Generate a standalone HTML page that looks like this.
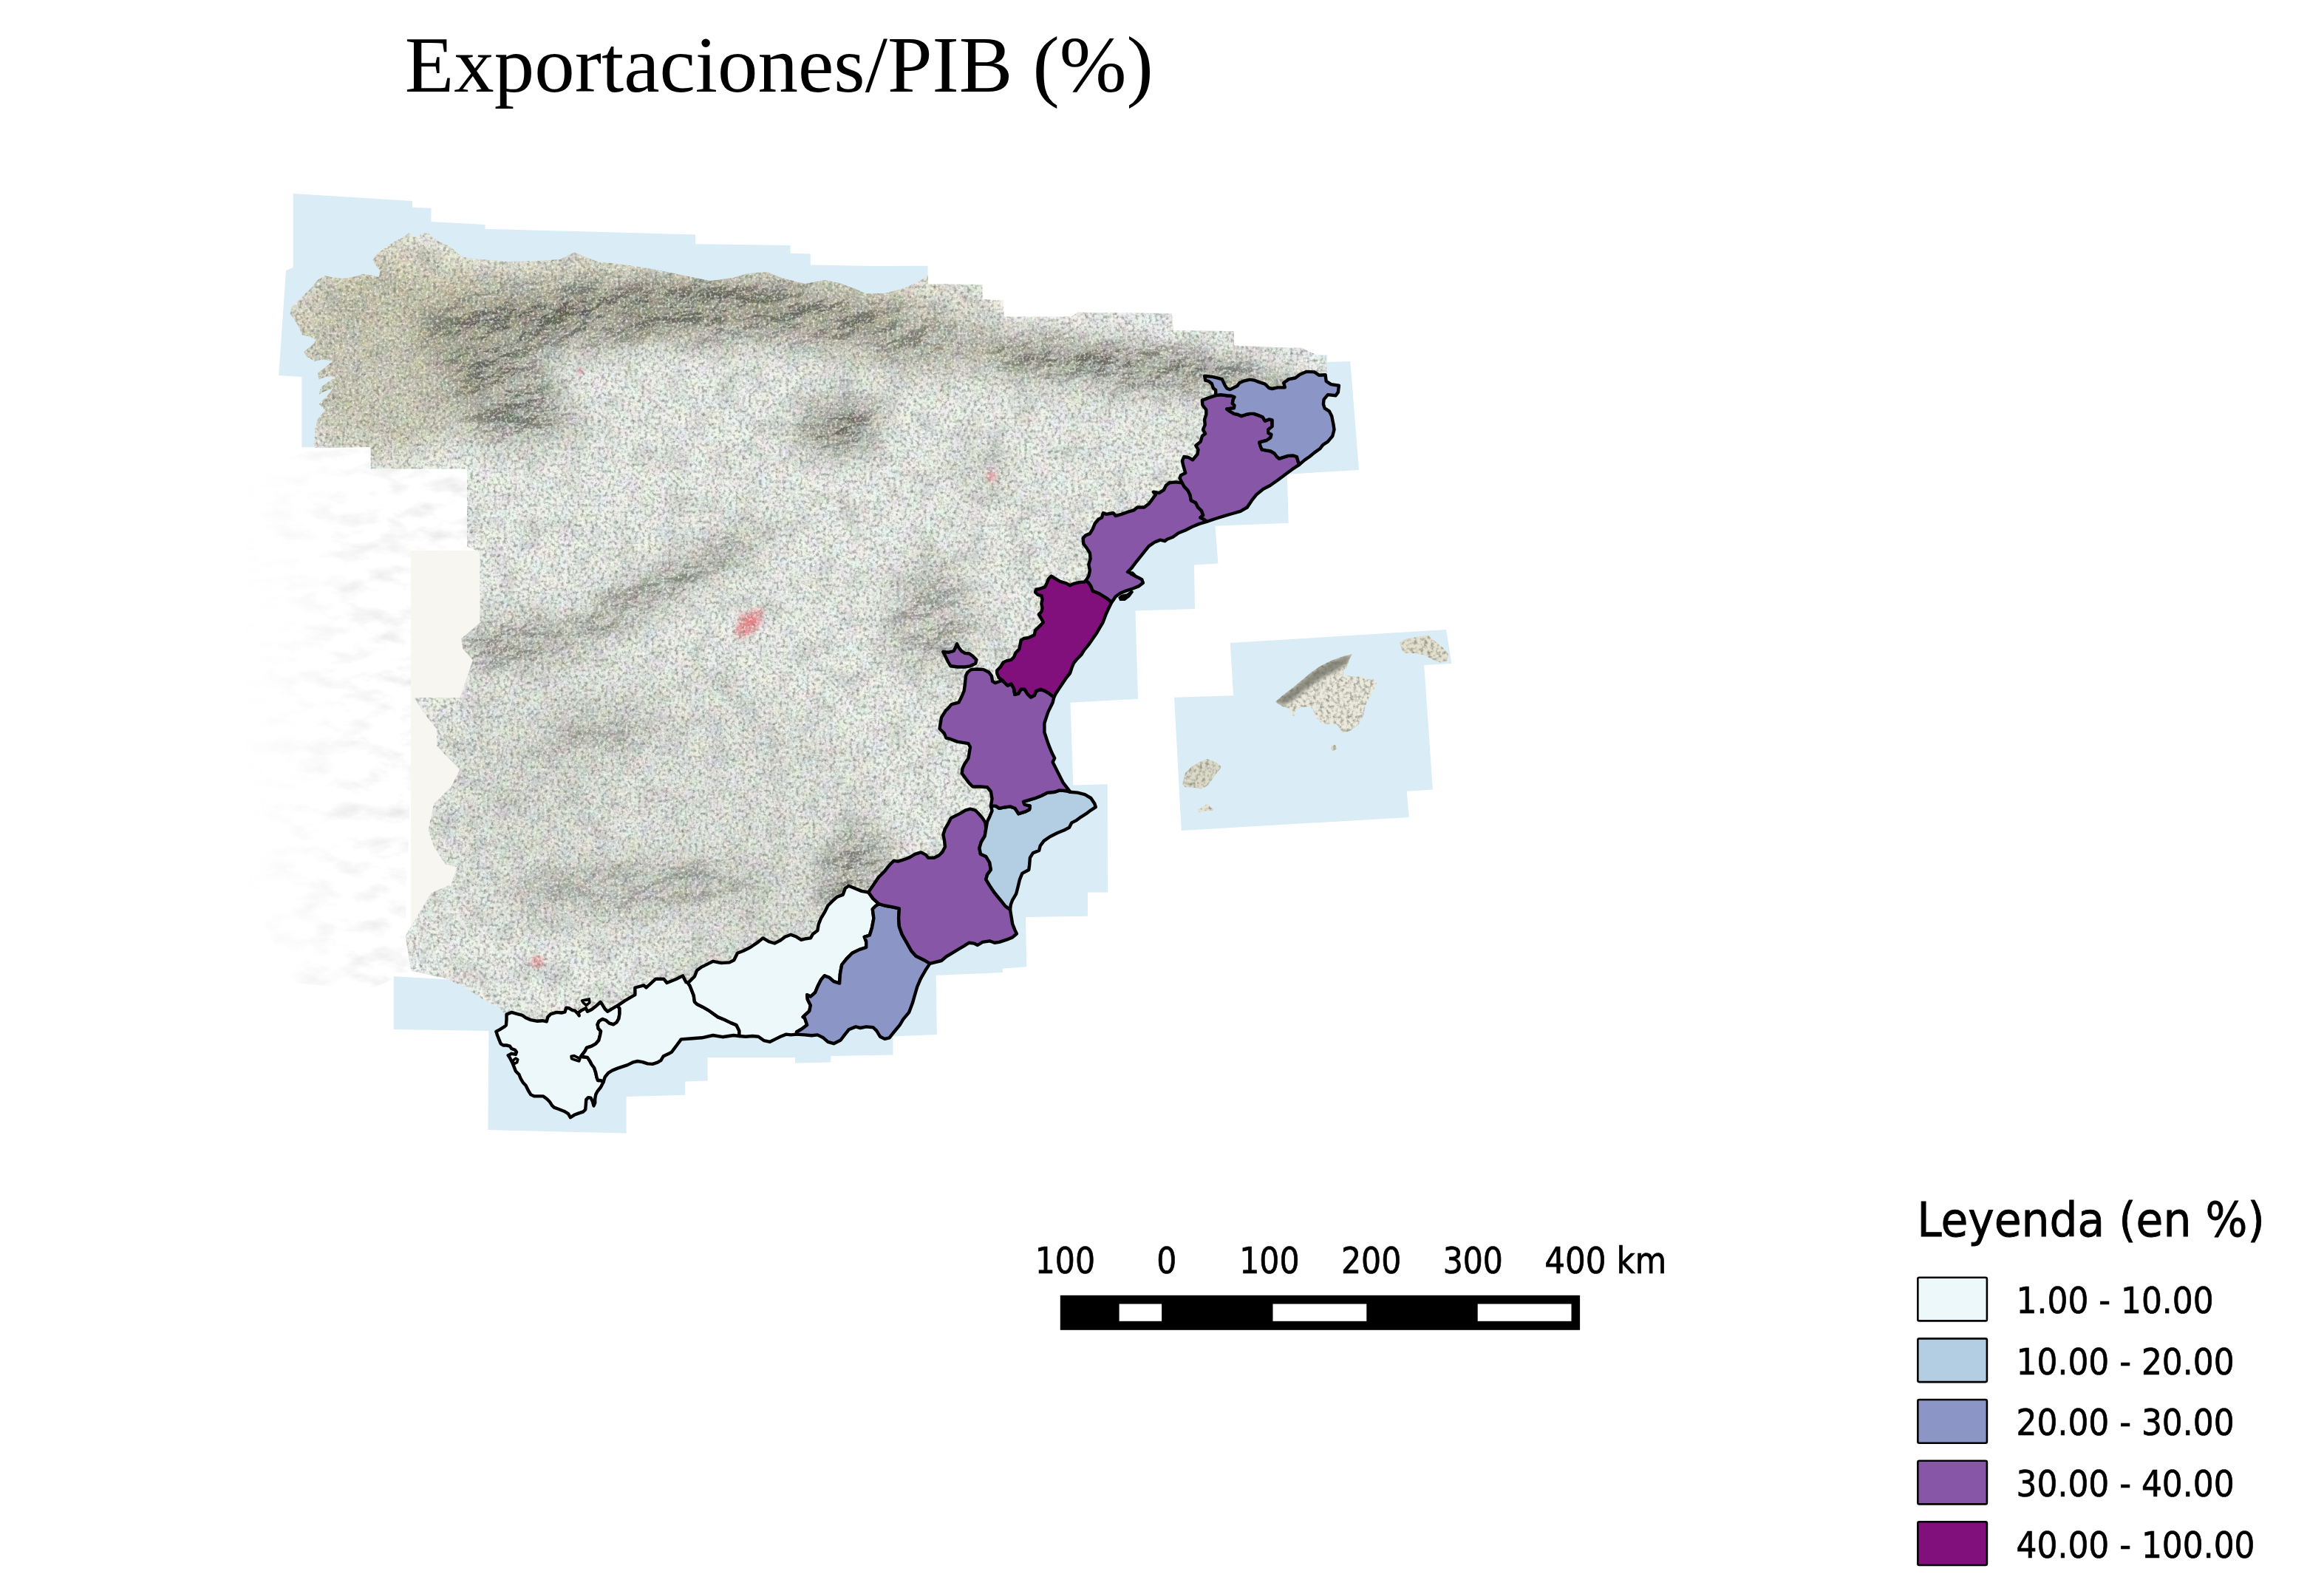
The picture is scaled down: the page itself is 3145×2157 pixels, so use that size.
<!DOCTYPE html>
<html lang="es"><head><meta charset="utf-8"><title>Exportaciones/PIB (%)</title>
<style>
html,body{margin:0;padding:0;background:#fff;}
body{width:3145px;height:2157px;overflow:hidden;position:relative;}
svg{position:absolute;left:0;top:0;display:block;}
.t{font-family:"Liberation Serif","Times New Roman",serif;}
.s{font-family:"DejaVu Sans Condensed","Liberation Sans",sans-serif;}
</style></head><body>
<svg width="3145" height="2157" viewBox="0 0 3145 2157">
<defs>
<clipPath id="landclip"><path d="M426.0,605.0 L424.5,600.5 L426.6,579.8 L429.7,567.4 L440.0,554.9 L431.7,546.7 L442.1,536.3 L450.4,526.0 L438.0,530.1 L431.7,534.2 L433.8,523.9 L446.2,515.6 L454.5,509.4 L442.1,509.4 L431.7,513.5 L429.7,505.3 L440.0,497.0 L450.4,488.7 L438.0,486.6 L425.5,488.7 L415.2,482.5 L411.0,476.3 L421.4,468.0 L427.6,459.7 L419.3,455.6 L409.0,453.5 L404.8,443.2 L398.6,432.8 L392.4,424.5 L395.5,414.2 L404.8,405.9 L413.1,397.6 L421.4,389.4 L429.7,379.0 L440.0,372.8 L448.3,374.9 L462.8,376.9 L477.3,374.9 L491.8,370.7 L504.2,372.8 L512.5,374.9 L514.5,366.6 L508.3,358.3 L504.2,352.1 L510.4,343.8 L520.8,335.5 L533.2,327.3 L545.6,321.0 L553.9,314.8 L560.1,321.0 L570.4,316.9 L578.7,313.8 L584.9,321.0 L595.3,327.3 L605.6,331.4 L613.9,337.6 L620.1,343.8 L628.4,348.0 L640.8,350.0 L653.0,351.0 L688.0,354.0 L727.0,353.0 L758.0,351.0 L778.0,341.0 L790.0,347.0 L809.0,354.0 L844.0,358.0 L883.0,364.0 L922.0,372.0 L961.0,380.0 L992.0,376.0 L1011.0,370.0 L1038.0,368.0 L1058.0,376.0 L1089.0,384.0 L1116.0,379.0 L1136.0,383.0 L1155.0,390.0 L1172.0,397.0 L1197.0,397.0 L1220.0,391.0 L1240.0,383.0 L1256.0,373.0 L1256.0,384.0 L1329.5,385.0 L1329.5,405.0 L1357.5,406.5 L1358.7,428.6 L1450.0,428.6 L1458.0,422.7 L1586.0,424.0 L1588.0,447.0 L1670.0,448.0 L1670.0,467.5 L1738.0,470.6 L1761.0,470.6 L1781.0,480.0 L1794.0,482.0 L1796.0,505.0 L1750.0,560.0 L1690.0,640.0 L1600.0,700.0 L1540.0,740.0 L1480.0,800.0 L1440.0,870.0 L1400.0,960.0 L1390.0,1040.0 L1420.0,1110.0 L1340.0,1200.0 L1240.0,1300.0 L1180.0,1360.0 L1080.0,1380.0 L960.0,1385.0 L880.0,1415.0 L800.0,1440.0 L760.0,1480.0 L720.0,1440.0 L700.0,1400.0 L684.0,1375.0 L676.7,1364.0 L653.4,1352.3 L630.0,1336.8 L606.7,1325.1 L556.2,1313.4 L552.3,1290.1 L548.4,1266.7 L560.0,1247.3 L571.7,1227.9 L583.4,1208.4 L610.6,1196.7 L618.4,1173.4 L602.8,1169.5 L587.3,1146.2 L579.5,1122.8 L587.3,1087.8 L610.6,1064.5 L622.3,1041.2 L606.7,1025.6 L591.2,1010.0 L591.2,986.7 L575.6,967.2 L560.0,943.9 L622.3,943.9 L632.0,916.7 L639.8,893.3 L626.2,877.8 L624.2,864.2 L649.5,842.8 L649.5,800.0 L649.5,747.0 L632.0,739.5 L632.0,634.5 L501.7,634.5 L501.7,605.0 L426.0,606.0Z"/></clipPath>
<filter id="mottle" x="0" y="0" width="100%" height="100%" filterUnits="userSpaceOnUse" color-interpolation-filters="sRGB">
<feTurbulence type="fractalNoise" baseFrequency="0.03" numOctaves="4" seed="7" result="n"/>
<feColorMatrix in="n" type="matrix" values="0 0 0 0 0.42  0 0 0 0 0.45  0 0 0 0 0.43  0.6 0 0 0 -0.28"/>
</filter>
<filter id="grain" x="0" y="0" width="100%" height="100%" filterUnits="userSpaceOnUse" color-interpolation-filters="sRGB">
<feTurbulence type="fractalNoise" baseFrequency="0.22" numOctaves="3" seed="3" result="n"/>
<feColorMatrix in="n" type="matrix" values="0 0 0 0 0.42  0 0 0 0 0.44  0 0 0 0 0.40  1.6 0 0 0 -0.68"/>
</filter>
<filter id="tint" x="0" y="0" width="100%" height="100%" filterUnits="userSpaceOnUse" color-interpolation-filters="sRGB">
<feTurbulence type="fractalNoise" baseFrequency="0.045" numOctaves="2" seed="5" result="n"/>
<feColorMatrix in="n" type="matrix" values="1.8 0 0 0 -0.3  0 1.8 0 0 -0.25  0 0 1.8 0 -0.3  0 0 0 0 0.06"/>
</filter>
<filter id="grainw" x="0" y="0" width="100%" height="100%" filterUnits="userSpaceOnUse" color-interpolation-filters="sRGB">
<feTurbulence type="fractalNoise" baseFrequency="0.3" numOctaves="2" seed="11" result="n"/>
<feColorMatrix in="n" type="matrix" values="0 0 0 0 1  0 0 0 0 1  0 0 0 0 1  0 2.0 0 0 -0.95"/>
</filter>
<filter id="relief" x="0" y="0" width="100%" height="100%" filterUnits="userSpaceOnUse" color-interpolation-filters="sRGB">
<feTurbulence type="fractalNoise" baseFrequency="0.02 0.045" numOctaves="5" seed="21" result="n"/>
<feColorMatrix in="n" type="matrix" values="0 0 0 0 0.5  0 0 0 0 0.5  0 0 0 0 0.5  0.5 0 0 0 -0.235"/>
<feGaussianBlur stdDeviation="0.6"/>
</filter>
<linearGradient id="ptfade" x1="330" y1="0" x2="640" y2="0" gradientUnits="userSpaceOnUse"><stop offset="0" stop-color="#fff" stop-opacity="0"/><stop offset="0.5" stop-color="#fff" stop-opacity="0.7"/><stop offset="1" stop-color="#fff" stop-opacity="1"/></linearGradient>
<mask id="ptmask" maskUnits="userSpaceOnUse" x="300" y="590" width="400" height="800"><rect x="300" y="590" width="400" height="800" fill="url(#ptfade)"/></mask>
<clipPath id="ptclip"><path d="M330,640 L420,610 L500,606 L500,635 L632,635 L632,745 L650,750 L650,800 L560,944 L548,1267 L556,1313 L500,1340 L400,1330 L330,1200 L310,900Z"/></clipPath>
<filter id="hill" x="380" y="300" width="1450" height="1250" filterUnits="userSpaceOnUse" color-interpolation-filters="sRGB">
<feGaussianBlur in="SourceAlpha" stdDeviation="20" result="m"/>
<feTurbulence type="fractalNoise" baseFrequency="0.018 0.03" numOctaves="6" seed="42" result="t"/>
<feDiffuseLighting in="t" surfaceScale="14" diffuseConstant="1.1" lighting-color="#ffffff" result="l"><feDistantLight azimuth="225" elevation="40"/></feDiffuseLighting>
<feColorMatrix in="l" type="matrix" values="0 0 0 0 0.30  0 0 0 0 0.30  0 0 0 0 0.26  -1.9 0 0 0 1.45" result="d"/>
<feComposite in="d" in2="m" operator="in"/>
</filter>
<filter id="blur30" x="-50%" y="-50%" width="200%" height="200%"><feGaussianBlur stdDeviation="22"/></filter>
<filter id="blur3" x="-20%" y="-20%" width="140%" height="140%"><feGaussianBlur stdDeviation="2.5"/></filter>
<filter id="blur15" x="-50%" y="-50%" width="200%" height="200%"><feGaussianBlur stdDeviation="15"/></filter>
</defs>
<rect width="3145" height="2157" fill="#fff"/>
<g fill="#daecf5">
<path d="M396.7,262.0 L558.0,272.0 L558.0,280.6 L583.4,281.7 L583.4,300.0 L656.5,304.0 L656.5,309.7 L941.0,317.5 L941.0,330.3 L1069.6,332.0 L1069.6,342.8 L1096.8,343.6 L1096.8,358.4 L1180.0,360.0 L1255.6,359.7 L1255.6,400.0 L1100.0,400.0 L600.0,380.0 L520.0,380.0 L470.0,420.0 L470.0,605.0 L408.4,605.3 L408.4,510.0 L377.2,508.0 L387.0,366.0 L396.7,362.0Z"/>
<path d="M1782.6,480.3 L1796.2,480.3 L1796.2,490.0 L1827.3,489.0 L1839.0,636.0 L1741.8,641.7 L1743.7,707.8 L1644.5,711.7 L1648.4,762.5 L1616.0,764.5 L1617.0,824.0 L1536.5,826.6 L1540.0,945.8 L1448.5,950.8 L1452.3,1062.5 L1498.7,1061.3 L1499.0,1207.5 L1471.9,1207.5 L1471.9,1239.8 L1388.0,1241.0 L1389.3,1308.2 L1357.0,1310.8 L1357.0,1316.0 L1266.6,1319.8 L1267.9,1399.9 L1208.5,1402.4 L1208.5,1427.5 L1124.3,1429.0 L1124.3,1437.5 L1076.0,1438.6 L1076.0,1431.0 L957.6,1431.0 L957.6,1462.4 L927.2,1463.4 L927.2,1481.7 L847.6,1483.9 L847.6,1533.4 L660.4,1529.0 L661.5,1395.0 L532.8,1393.0 L532.8,1321.2 L690.0,1330.0 L760.0,1400.0 L900.0,1380.0 L1100.0,1350.0 L1250.0,1250.0 L1380.0,1100.0 L1380.0,960.0 L1440.0,850.0 L1500.0,780.0 L1600.0,690.0 L1700.0,620.0 L1760.0,540.0Z"/>
<path d="M1664.8,870.1 L1957.1,852.0 L1964.5,897.9 L1927.2,900.0 L1938.9,1068.5 L1903.7,1070.7 L1906.9,1105.9 L1598.7,1124.0 L1589.1,943.7 L1669.1,941.2Z"/>
</g>
<g clip-path="url(#ptclip)" mask="url(#ptmask)"><rect x="300" y="600" width="360" height="760" filter="url(#relief)"/></g>
<rect x="556" y="745" width="100" height="570" fill="#f7f6f0"/>
<path d="M426.0,605.0 L424.5,600.5 L426.6,579.8 L429.7,567.4 L440.0,554.9 L431.7,546.7 L442.1,536.3 L450.4,526.0 L438.0,530.1 L431.7,534.2 L433.8,523.9 L446.2,515.6 L454.5,509.4 L442.1,509.4 L431.7,513.5 L429.7,505.3 L440.0,497.0 L450.4,488.7 L438.0,486.6 L425.5,488.7 L415.2,482.5 L411.0,476.3 L421.4,468.0 L427.6,459.7 L419.3,455.6 L409.0,453.5 L404.8,443.2 L398.6,432.8 L392.4,424.5 L395.5,414.2 L404.8,405.9 L413.1,397.6 L421.4,389.4 L429.7,379.0 L440.0,372.8 L448.3,374.9 L462.8,376.9 L477.3,374.9 L491.8,370.7 L504.2,372.8 L512.5,374.9 L514.5,366.6 L508.3,358.3 L504.2,352.1 L510.4,343.8 L520.8,335.5 L533.2,327.3 L545.6,321.0 L553.9,314.8 L560.1,321.0 L570.4,316.9 L578.7,313.8 L584.9,321.0 L595.3,327.3 L605.6,331.4 L613.9,337.6 L620.1,343.8 L628.4,348.0 L640.8,350.0 L653.0,351.0 L688.0,354.0 L727.0,353.0 L758.0,351.0 L778.0,341.0 L790.0,347.0 L809.0,354.0 L844.0,358.0 L883.0,364.0 L922.0,372.0 L961.0,380.0 L992.0,376.0 L1011.0,370.0 L1038.0,368.0 L1058.0,376.0 L1089.0,384.0 L1116.0,379.0 L1136.0,383.0 L1155.0,390.0 L1172.0,397.0 L1197.0,397.0 L1220.0,391.0 L1240.0,383.0 L1256.0,373.0 L1256.0,384.0 L1329.5,385.0 L1329.5,405.0 L1357.5,406.5 L1358.7,428.6 L1450.0,428.6 L1458.0,422.7 L1586.0,424.0 L1588.0,447.0 L1670.0,448.0 L1670.0,467.5 L1738.0,470.6 L1761.0,470.6 L1781.0,480.0 L1794.0,482.0 L1796.0,505.0 L1750.0,560.0 L1690.0,640.0 L1600.0,700.0 L1540.0,740.0 L1480.0,800.0 L1440.0,870.0 L1400.0,960.0 L1390.0,1040.0 L1420.0,1110.0 L1340.0,1200.0 L1240.0,1300.0 L1180.0,1360.0 L1080.0,1380.0 L960.0,1385.0 L880.0,1415.0 L800.0,1440.0 L760.0,1480.0 L720.0,1440.0 L700.0,1400.0 L684.0,1375.0 L676.7,1364.0 L653.4,1352.3 L630.0,1336.8 L606.7,1325.1 L556.2,1313.4 L552.3,1290.1 L548.4,1266.7 L560.0,1247.3 L571.7,1227.9 L583.4,1208.4 L610.6,1196.7 L618.4,1173.4 L602.8,1169.5 L587.3,1146.2 L579.5,1122.8 L587.3,1087.8 L610.6,1064.5 L622.3,1041.2 L606.7,1025.6 L591.2,1010.0 L591.2,986.7 L575.6,967.2 L560.0,943.9 L622.3,943.9 L632.0,916.7 L639.8,893.3 L626.2,877.8 L624.2,864.2 L649.5,842.8 L649.5,800.0 L649.5,747.0 L632.0,739.5 L632.0,634.5 L501.7,634.5 L501.7,605.0 L426.0,606.0Z" fill="#f0f3ee"/>
<g clip-path="url(#landclip)">
<g fill="#c9b98a" filter="url(#blur30)"><ellipse cx="520" cy="470" rx="150" ry="150" opacity="0.35"/><ellipse cx="850" cy="400" rx="420" ry="60" opacity="0.30"/><ellipse cx="1300" cy="450" rx="200" ry="60" opacity="0.2"/></g>
<g fill="#6f6d58" filter="url(#blur30)">
<ellipse cx="505" cy="485" rx="115" ry="125" transform="rotate(0 505 485)" opacity="0.19"/>
<ellipse cx="660" cy="450" rx="90" ry="60" transform="rotate(-5 660 450)" opacity="0.44"/>
<ellipse cx="789" cy="423" rx="120" ry="45" transform="rotate(-2 789 423)" opacity="0.51"/>
<ellipse cx="952" cy="415" rx="120" ry="42" transform="rotate(0 952 415)" opacity="0.51"/>
<ellipse cx="1105" cy="428" rx="110" ry="40" transform="rotate(8 1105 428)" opacity="0.44"/>
<ellipse cx="1230" cy="455" rx="80" ry="36" transform="rotate(12 1230 455)" opacity="0.36"/>
<ellipse cx="690" cy="545" rx="85" ry="55" transform="rotate(15 690 545)" opacity="0.42"/>
<ellipse cx="1530" cy="486" rx="235" ry="36" transform="rotate(5 1530 486)" opacity="0.51"/>
<ellipse cx="1136" cy="576" rx="55" ry="32" transform="rotate(-15 1136 576)" opacity="0.68"/>
<ellipse cx="883" cy="800" rx="185" ry="17" transform="rotate(-29.5 883 800)" opacity="0.51"/>
<ellipse cx="690" cy="872" rx="75" ry="30" transform="rotate(-10 690 872)" opacity="0.38"/>
<ellipse cx="1260" cy="835" rx="60" ry="75" transform="rotate(10 1260 835)" opacity="0.24"/>
<ellipse cx="815" cy="988" rx="75" ry="24" transform="rotate(-8 815 988)" opacity="0.25"/>
<ellipse cx="870" cy="1200" rx="190" ry="28" transform="rotate(-3 870 1200)" opacity="0.26"/>
<ellipse cx="1155" cy="1180" rx="42" ry="62" transform="rotate(30 1155 1180)" opacity="0.38"/>
<ellipse cx="1000" cy="1290" rx="125" ry="28" transform="rotate(-25 1000 1290)" opacity="0.19"/>
<ellipse cx="720" cy="1060" rx="90" ry="80" transform="rotate(0 720 1060)" opacity="0.09"/>
<ellipse cx="850" cy="1090" rx="330" ry="190" transform="rotate(0 850 1090)" opacity="0.08"/>
<ellipse cx="1330" cy="640" rx="50" ry="25" transform="rotate(40 1330 640)" opacity="0.21"/>
</g>
<g filter="url(#hill)" fill="#000">
<ellipse cx="660" cy="450" rx="81" ry="54" transform="rotate(-5 660 450)" opacity="0.78"/>
<ellipse cx="789" cy="423" rx="108" ry="40" transform="rotate(-2 789 423)" opacity="0.90"/>
<ellipse cx="952" cy="415" rx="108" ry="38" transform="rotate(0 952 415)" opacity="0.90"/>
<ellipse cx="1105" cy="428" rx="99" ry="36" transform="rotate(8 1105 428)" opacity="0.78"/>
<ellipse cx="1230" cy="455" rx="72" ry="32" transform="rotate(12 1230 455)" opacity="0.63"/>
<ellipse cx="690" cy="545" rx="76" ry="50" transform="rotate(15 690 545)" opacity="0.75"/>
<ellipse cx="1530" cy="486" rx="212" ry="32" transform="rotate(5 1530 486)" opacity="0.90"/>
<ellipse cx="1136" cy="576" rx="50" ry="29" transform="rotate(-15 1136 576)" opacity="1.00"/>
<ellipse cx="883" cy="800" rx="166" ry="15" transform="rotate(-29.5 883 800)" opacity="0.90"/>
<ellipse cx="690" cy="872" rx="68" ry="27" transform="rotate(-10 690 872)" opacity="0.68"/>
<ellipse cx="1260" cy="835" rx="54" ry="68" transform="rotate(10 1260 835)" opacity="0.42"/>
<ellipse cx="815" cy="988" rx="68" ry="22" transform="rotate(-8 815 988)" opacity="0.43"/>
<ellipse cx="870" cy="1200" rx="171" ry="25" transform="rotate(-3 870 1200)" opacity="0.45"/>
<ellipse cx="1155" cy="1180" rx="38" ry="56" transform="rotate(30 1155 1180)" opacity="0.68"/>
</g>
<path d="M1330,380 L1360,400 L1590,418 L1800,470 L1800,505 L1740,500 L1590,470 L1360,450 L1330,420Z" fill="#fff" opacity="0.75" filter="url(#blur15)"/>
<rect x="380" y="300" width="1450" height="1250" filter="url(#tint)"/>
<g fill="#ee6f78" filter="url(#blur3)"><circle cx="1012" cy="845" r="15" opacity="0.5"/><circle cx="1022" cy="836" r="11" opacity="0.5"/><circle cx="1003" cy="855" r="10" opacity="0.45"/><circle cx="1030" cy="826" r="6" opacity="0.4"/><circle cx="1014" cy="842" r="8" opacity="0.6"/><circle cx="727" cy="1302" r="9" opacity="0.55"/><circle cx="1341" cy="645" r="7" opacity="0.5"/><circle cx="786" cy="502" r="5" opacity="0.5"/></g>
<rect x="380" y="300" width="1450" height="1250" filter="url(#mottle)"/>
<rect x="380" y="300" width="1450" height="1250" filter="url(#grain)"/>
<rect x="380" y="300" width="1450" height="1250" filter="url(#grainw)"/>
</g>
<clipPath id="islclip"><path d="M1725.6,950.1 L1736.3,940.5 L1749.1,930.9 L1761.9,920.3 L1774.7,909.6 L1787.5,901.1 L1802.4,893.6 L1817.3,888.3 L1830.1,885.1 L1825.9,892.5 L1823.7,901.1 L1817.3,909.6 L1821.6,913.9 L1834.4,916.0 L1845.1,913.9 L1847.2,920.3 L1857.9,918.1 L1863.2,924.5 L1857.9,935.2 L1851.5,945.9 L1847.2,956.5 L1845.1,969.3 L1838.7,980.0 L1828.0,988.5 L1819.5,992.8 L1813.1,988.5 L1808.8,980.0 L1798.1,980.0 L1787.5,977.9 L1778.9,969.3 L1776.8,958.7 L1770.4,956.5 L1761.9,956.5 L1753.3,960.8 L1751.2,969.3 L1745.9,967.2 L1744.8,958.7 L1736.3,956.5Z"/><path d="M1894.1,869.1 L1902.7,864.8 L1919.7,861.6 L1932.5,859.5 L1941.1,866.9 L1953.9,877.6 L1960.3,886.1 L1958.1,894.7 L1949.6,896.8 L1938.9,892.5 L1926.1,886.1 L1913.3,884.0 L1900.5,884.0 L1896.3,877.6Z"/><path d="M1601.9,1054.7 L1604.0,1046.1 L1612.5,1037.6 L1623.2,1031.2 L1633.9,1026.9 L1644.5,1031.2 L1653.1,1037.6 L1646.7,1046.1 L1640.3,1054.7 L1633.9,1063.2 L1625.3,1067.5 L1612.5,1065.3 L1604.0,1065.3 L1599.7,1061.1Z"/><path d="M1621.1,1095.2 L1629.6,1090.9 L1633.9,1086.7 L1638.1,1093.1 L1644.5,1095.2 L1640.3,1097.3 L1629.6,1097.3 L1622.1,1099.5Z"/><path d="M1801.3,1009.9 L1806.7,1007.7 L1809.2,1013.1 L1804.5,1016.3 L1801.3,1014.1Z"/></clipPath>
<path d="M1725.6,950.1 L1736.3,940.5 L1749.1,930.9 L1761.9,920.3 L1774.7,909.6 L1787.5,901.1 L1802.4,893.6 L1817.3,888.3 L1830.1,885.1 L1825.9,892.5 L1823.7,901.1 L1817.3,909.6 L1821.6,913.9 L1834.4,916.0 L1845.1,913.9 L1847.2,920.3 L1857.9,918.1 L1863.2,924.5 L1857.9,935.2 L1851.5,945.9 L1847.2,956.5 L1845.1,969.3 L1838.7,980.0 L1828.0,988.5 L1819.5,992.8 L1813.1,988.5 L1808.8,980.0 L1798.1,980.0 L1787.5,977.9 L1778.9,969.3 L1776.8,958.7 L1770.4,956.5 L1761.9,956.5 L1753.3,960.8 L1751.2,969.3 L1745.9,967.2 L1744.8,958.7 L1736.3,956.5Z" fill="#ebe9dc"/>
<path d="M1894.1,869.1 L1902.7,864.8 L1919.7,861.6 L1932.5,859.5 L1941.1,866.9 L1953.9,877.6 L1960.3,886.1 L1958.1,894.7 L1949.6,896.8 L1938.9,892.5 L1926.1,886.1 L1913.3,884.0 L1900.5,884.0 L1896.3,877.6Z" fill="#e4e0cf"/>
<path d="M1601.9,1054.7 L1604.0,1046.1 L1612.5,1037.6 L1623.2,1031.2 L1633.9,1026.9 L1644.5,1031.2 L1653.1,1037.6 L1646.7,1046.1 L1640.3,1054.7 L1633.9,1063.2 L1625.3,1067.5 L1612.5,1065.3 L1604.0,1065.3 L1599.7,1061.1Z" fill="#dcd9c8"/>
<path d="M1621.1,1095.2 L1629.6,1090.9 L1633.9,1086.7 L1638.1,1093.1 L1644.5,1095.2 L1640.3,1097.3 L1629.6,1097.3 L1622.1,1099.5Z" fill="#e6e2d0"/>
<path d="M1801.3,1009.9 L1806.7,1007.7 L1809.2,1013.1 L1804.5,1016.3 L1801.3,1014.1Z" fill="#dcd9c8"/>
<g clip-path="url(#islclip)">
<path d="M1725.6,950.1 L1736.3,940.5 L1749.1,930.9 L1761.9,920.3 L1774.7,909.6 L1787.5,901.1 L1802.4,893.6 L1817.3,888.3 L1830.1,885.1 L1825.9,894.7 L1813.1,905.3 L1796.0,913.9 L1778.9,924.5 L1764.0,935.2 L1749.1,948.0 L1736.3,954.4Z" fill="#77766a" opacity="0.8" filter="url(#blur3)"/>
<rect x="1580" y="850" width="400" height="260" filter="url(#grain)"/>
</g>
<g stroke="#000" stroke-width="4.4" stroke-linejoin="round">
<path d="M685.5,1372.7 L692.3,1369.9 L700.2,1372.2 L706.9,1373.9 L711.5,1377.3 L718.2,1380.1 L727.3,1381.8 L734.0,1381.2 L739.7,1382.3 L741.4,1376.1 L745.3,1372.2 L753.2,1369.9 L760.0,1370.5 L764.5,1369.4 L766.2,1363.7 L770.2,1364.3 L774.7,1367.1 L778.1,1367.7 L781.5,1371.1 L783.7,1374.4 L782.6,1370.5 L787.1,1367.1 L792.8,1364.3 L795.0,1368.8 L800.7,1366.0 L805.2,1362.6 L809.7,1358.6 L812.5,1355.8 L815.3,1359.8 L818.7,1365.4 L822.1,1368.8 L827.8,1365.4 L832.3,1362.6 L835.7,1360.9 L838.5,1364.8 L838.5,1371.6 L837.4,1378.4 L834.5,1383.5 L830.0,1386.3 L824.4,1384.6 L819.9,1380.7 L815.3,1379.0 L810.8,1381.8 L808.6,1386.3 L809.7,1391.9 L813.1,1395.3 L812.0,1401.0 L810.3,1407.8 L806.3,1412.3 L800.7,1415.7 L793.9,1417.9 L791.6,1422.4 L788.2,1426.9 L786.0,1429.8 L790.5,1430.3 L795.0,1430.9 L798.4,1436.0 L800.7,1440.5 L804.1,1445.0 L806.3,1451.8 L807.4,1457.4 L809.1,1462.0 L813.1,1462.0 L816.5,1464.2 L813.1,1471.0 L808.6,1476.6 L806.3,1481.1 L805.2,1486.8 L805.2,1492.4 L803.5,1496.4 L801.8,1490.2 L799.5,1485.7 L796.1,1485.1 L793.3,1487.9 L792.8,1494.7 L792.2,1501.5 L789.4,1504.3 L782.6,1506.6 L777.0,1508.8 L771.9,1512.2 L769.0,1507.1 L763.4,1503.7 L758.9,1502.0 L754.4,1500.3 L749.9,1498.6 L747.0,1495.8 L744.2,1491.3 L739.7,1486.8 L735.2,1483.4 L728.4,1483.4 L722.8,1483.4 L718.2,1481.1 L714.8,1475.5 L711.5,1468.7 L708.1,1465.3 L704.7,1459.7 L702.4,1454.0 L697.9,1449.5 L695.7,1443.9 L693.4,1438.2 L690.0,1431.5 L687.7,1428.1 L692.3,1425.8 L697.9,1426.9 L699.0,1423.6 L696.8,1420.7 L692.3,1419.0 L690.0,1415.7 L685.5,1414.5 L681.0,1414.5 L677.6,1412.3 L675.3,1406.6 L673.1,1401.0 L671.4,1395.9 L676.5,1393.1 L682.1,1389.7 L684.9,1387.4 L685.5,1379.5Z" fill="#edf8fb"/>
<path d="M816.5,1464.2 L813.1,1462.0 L809.1,1462.0 L807.4,1457.4 L806.3,1451.8 L804.1,1445.0 L800.7,1440.5 L798.4,1436.0 L795.0,1430.9 L790.5,1430.3 L786.0,1429.8 L788.2,1426.9 L791.6,1422.4 L793.9,1417.9 L800.7,1415.7 L806.3,1412.3 L810.3,1407.8 L812.0,1401.0 L813.1,1395.3 L809.7,1391.9 L808.6,1386.3 L810.8,1381.8 L815.3,1379.0 L819.9,1380.7 L824.4,1384.6 L830.0,1386.3 L834.5,1383.5 L837.4,1378.4 L838.5,1371.6 L838.5,1364.8 L835.7,1360.9 L846.5,1353.7 L859.4,1346.2 L859.4,1336.5 L871.3,1333.3 L874.5,1336.5 L887.4,1324.7 L898.2,1324.7 L902.5,1330.0 L915.4,1324.7 L924.0,1320.4 L928.3,1329.0 L931.0,1330.1 L933.6,1334.0 L938.7,1346.9 L940.0,1355.7 L943.1,1358.8 L951.0,1362.7 L960.4,1368.2 L971.4,1376.1 L980.8,1380.0 L988.6,1383.9 L996.5,1387.1 L1000.4,1394.9 L1000.4,1402.0 L992.8,1401.0 L977.8,1403.2 L964.9,1401.0 L949.8,1404.3 L936.9,1405.3 L921.8,1406.4 L915.4,1415.0 L908.9,1423.6 L905.0,1425.8 L897.8,1429.2 L894.4,1434.9 L889.9,1437.7 L883.1,1439.9 L876.3,1439.4 L869.5,1437.1 L862.8,1436.0 L856.0,1437.7 L849.2,1441.1 L842.4,1443.3 L835.7,1445.6 L828.9,1448.4 L823.2,1451.8 L818.7,1457.4Z" fill="#edf8fb"/>
<path d="M931.0,1330.1 L940.0,1321.2 L943.1,1313.3 L949.4,1308.6 L958.8,1303.9 L965.1,1300.8 L976.1,1303.1 L987.1,1302.4 L993.3,1299.2 L998.0,1289.8 L1005.9,1286.7 L1015.3,1282.0 L1024.7,1275.7 L1032.5,1269.4 L1040.4,1274.1 L1048.2,1276.5 L1056.1,1272.5 L1062.4,1267.8 L1070.2,1264.7 L1078.0,1267.8 L1084.3,1271.8 L1090.6,1270.2 L1096.9,1269.4 L1100.0,1263.9 L1106.3,1259.2 L1107.8,1250.6 L1111.0,1242.7 L1115.7,1234.9 L1120.4,1225.5 L1126.7,1219.2 L1132.9,1213.7 L1140.8,1210.6 L1143.9,1202.0 L1148.6,1198.8 L1156.5,1202.0 L1165.9,1205.9 L1175.3,1207.5 L1181.6,1216.1 L1189.4,1223.1 L1184.7,1226.3 L1180.8,1230.2 L1182.4,1242.7 L1180.0,1255.3 L1176.9,1265.5 L1169.8,1267.8 L1172.2,1274.1 L1172.2,1282.0 L1162.7,1285.1 L1153.3,1289.8 L1145.5,1297.6 L1139.2,1305.5 L1136.9,1318.0 L1136.1,1330.6 L1128.2,1328.2 L1122.0,1322.7 L1115.7,1320.4 L1111.0,1325.9 L1106.3,1335.3 L1103.1,1343.1 L1096.9,1348.6 L1092.2,1346.3 L1092.9,1352.5 L1096.9,1360.4 L1095.3,1368.2 L1086.7,1376.1 L1089.0,1377.6 L1092.2,1387.1 L1085.9,1391.8 L1078.0,1396.5 L1078.0,1399.6 L1070.2,1400.4 L1063.9,1399.6 L1056.1,1402.7 L1049.8,1405.9 L1042.0,1409.8 L1034.1,1408.2 L1026.3,1402.7 L1018.4,1402.0 L1009.0,1402.7 L1000.4,1402.0 L1000.4,1394.9 L996.5,1387.1 L988.6,1383.9 L980.8,1380.0 L971.4,1376.1 L960.4,1368.2 L951.0,1362.7 L943.1,1358.8 L940.0,1355.7 L938.7,1346.9 L933.6,1334.0Z" fill="#edf8fb"/>
<path d="M1189.4,1223.1 L1197.3,1225.5 L1206.7,1227.1 L1216.9,1229.4 L1216.1,1242.7 L1216.9,1253.7 L1220.8,1264.7 L1227.1,1275.7 L1233.3,1286.7 L1239.6,1293.7 L1250.6,1299.2 L1258.4,1303.9 L1252.2,1313.3 L1245.9,1324.3 L1241.2,1335.3 L1238.0,1346.3 L1234.9,1357.3 L1230.2,1369.8 L1222.4,1379.2 L1217.6,1387.1 L1209.8,1396.5 L1203.5,1404.3 L1197.3,1405.9 L1191.0,1402.7 L1186.3,1394.9 L1181.6,1390.2 L1172.2,1389.4 L1164.3,1391.0 L1158.0,1389.4 L1148.6,1393.3 L1142.4,1401.2 L1137.6,1407.5 L1128.2,1412.2 L1120.4,1409.8 L1114.1,1404.3 L1106.3,1400.4 L1098.4,1401.2 L1089.0,1400.4 L1078.0,1399.6 L1078.0,1396.5 L1085.9,1391.8 L1092.2,1387.1 L1089.0,1377.6 L1086.7,1376.1 L1095.3,1368.2 L1096.9,1360.4 L1092.9,1352.5 L1092.2,1346.3 L1096.9,1348.6 L1103.1,1343.1 L1106.3,1335.3 L1111.0,1325.9 L1115.7,1320.4 L1122.0,1322.7 L1128.2,1328.2 L1136.1,1330.6 L1136.9,1318.0 L1139.2,1305.5 L1145.5,1297.6 L1153.3,1289.8 L1162.7,1285.1 L1172.2,1282.0 L1172.2,1274.1 L1169.8,1267.8 L1176.9,1265.5 L1180.0,1255.3 L1182.4,1242.7 L1180.8,1230.2 L1184.7,1226.3Z" fill="#8c96c6"/>
<path d="M1176.9,1204.8 L1182.6,1196.6 L1189.2,1186.8 L1197.3,1178.7 L1203.8,1170.5 L1209.5,1164.8 L1215.3,1165.6 L1223.4,1163.2 L1231.6,1159.9 L1238.1,1155.8 L1246.3,1153.4 L1252.8,1156.6 L1256.0,1160.7 L1264.2,1160.7 L1270.7,1157.5 L1275.6,1152.6 L1278.9,1146.0 L1278.1,1137.9 L1276.4,1129.7 L1278.9,1121.6 L1283.8,1113.4 L1287.0,1106.9 L1293.6,1103.6 L1300.1,1100.4 L1306.6,1096.3 L1313.1,1094.7 L1319.7,1096.3 L1324.6,1101.2 L1329.5,1106.9 L1333.5,1113.4 L1334.3,1121.6 L1332.7,1131.4 L1327.8,1139.5 L1325.4,1147.7 L1327.0,1155.8 L1334.3,1159.1 L1339.2,1167.2 L1340.9,1177.0 L1336.0,1183.6 L1334.3,1190.1 L1339.2,1198.2 L1345.8,1208.0 L1353.9,1217.8 L1360.4,1226.0 L1367.0,1230.9 L1368.6,1240.7 L1370.2,1250.4 L1373.5,1258.6 L1375.9,1263.5 L1370.2,1268.4 L1362.1,1271.7 L1352.3,1274.9 L1345.8,1275.7 L1339.2,1273.3 L1329.5,1274.9 L1322.9,1279.0 L1318.0,1276.6 L1311.5,1275.7 L1305.0,1279.8 L1296.8,1284.7 L1288.7,1289.6 L1280.5,1294.5 L1274.0,1300.0 L1258.4,1303.9 L1250.6,1299.2 L1239.6,1293.7 L1233.3,1286.7 L1227.1,1275.7 L1220.8,1264.7 L1216.9,1253.7 L1216.1,1242.7 L1216.9,1229.4 L1206.7,1227.1 L1197.3,1225.5 L1189.4,1223.1 L1181.6,1216.1 L1175.3,1207.5Z" fill="#8856a7"/>
<path d="M1340.9,1090.6 L1347.4,1090.6 L1352.3,1093.8 L1360.4,1092.2 L1367.0,1091.4 L1373.5,1093.8 L1378.4,1101.2 L1386.6,1098.7 L1393.1,1095.5 L1393.9,1090.6 L1386.6,1088.9 L1384.9,1084.9 L1393.1,1082.4 L1401.2,1080.0 L1409.4,1076.7 L1417.5,1072.6 L1427.3,1071.8 L1433.9,1069.4 L1443.7,1070.2 L1448.5,1071.8 L1458.3,1072.6 L1468.1,1075.1 L1476.3,1080.0 L1481.2,1087.3 L1482.8,1092.2 L1476.3,1096.3 L1469.8,1101.2 L1463.2,1105.3 L1456.7,1110.1 L1450.2,1113.4 L1446.9,1119.9 L1440.4,1123.2 L1430.6,1127.3 L1420.8,1132.2 L1412.7,1137.9 L1407.8,1144.4 L1406.1,1150.9 L1398.0,1154.2 L1393.9,1160.7 L1393.1,1170.5 L1392.3,1177.0 L1383.3,1181.9 L1380.0,1190.1 L1377.6,1199.9 L1375.1,1209.7 L1370.2,1217.8 L1367.8,1224.3 L1367.0,1230.9 L1360.4,1226.0 L1353.9,1217.8 L1345.8,1208.0 L1339.2,1198.2 L1334.3,1190.1 L1336.0,1183.6 L1340.9,1177.0 L1339.2,1167.2 L1334.3,1159.1 L1327.0,1155.8 L1325.4,1147.7 L1327.8,1139.5 L1332.7,1131.4 L1334.3,1121.6 L1336.0,1111.8 L1339.2,1105.3 L1342.5,1097.1Z" fill="#b3cde3"/>
<path d="M1356.4,920.6 L1360.0,924.2 L1363.6,927.8 L1368.4,925.4 L1372.0,931.4 L1373.3,939.9 L1378.1,938.7 L1381.7,932.7 L1386.5,932.7 L1390.1,938.7 L1394.9,943.5 L1399.8,941.1 L1402.2,935.1 L1408.2,932.7 L1414.2,935.1 L1420.2,938.7 L1426.3,943.5 L1424.6,950.8 L1418.4,963.4 L1413.4,978.5 L1413.4,991.0 L1418.4,1006.1 L1423.4,1018.6 L1427.2,1026.1 L1424.6,1031.2 L1430.9,1043.7 L1438.5,1058.8 L1448.5,1071.8 L1443.7,1070.2 L1433.9,1069.4 L1427.3,1071.8 L1417.5,1072.6 L1409.4,1076.7 L1401.2,1080.0 L1393.1,1082.4 L1384.9,1084.9 L1386.6,1088.9 L1393.9,1090.6 L1393.1,1095.5 L1386.6,1098.7 L1378.4,1101.2 L1373.5,1093.8 L1367.0,1091.4 L1360.4,1092.2 L1352.3,1093.8 L1347.4,1090.6 L1340.9,1090.6 L1342.5,1080.8 L1340.9,1071.0 L1336.0,1065.3 L1326.2,1064.5 L1316.4,1064.5 L1311.5,1059.6 L1306.6,1053.1 L1301.7,1046.5 L1302.5,1040.0 L1305.4,1033.7 L1310.4,1026.1 L1313.0,1011.1 L1310.4,1006.1 L1295.4,1003.6 L1285.3,999.8 L1280.3,998.5 L1277.8,992.3 L1271.5,986.0 L1274.0,970.9 L1280.3,960.9 L1281.7,960.0 L1287.7,953.1 L1297.3,950.7 L1301.0,943.5 L1304.6,935.1 L1305.8,926.6 L1307.0,914.6 L1309.4,909.8 L1314.2,906.1 L1322.7,905.5 L1331.1,906.1 L1338.3,909.8 L1341.9,914.6 L1343.1,921.8 L1346.7,924.2 L1352.8,922.0Z" fill="#8856a7"/>
<path d="M1276.3,882.0 L1284.1,882.7 L1290.7,880.8 L1293.7,874.8 L1294.9,871.2 L1297.3,876.0 L1301.0,880.8 L1305.8,883.9 L1311.8,884.5 L1316.6,888.1 L1321.4,892.9 L1320.2,897.7 L1313.0,901.3 L1305.8,902.5 L1296.1,902.5 L1286.5,901.3 L1282.9,895.3 L1279.3,888.1Z" fill="#8856a7"/>
<path d="M1422.7,779.6 L1428.7,783.3 L1434.7,786.9 L1443.1,789.3 L1448.0,792.3 L1452.8,789.9 L1460.0,788.1 L1467.2,787.5 L1469.4,785.6 L1473.3,788.7 L1476.4,793.4 L1478.7,799.6 L1486.5,802.7 L1494.2,807.3 L1498.9,810.4 L1504.3,815.0 L1499.8,824.2 L1496.1,832.7 L1492.5,842.3 L1488.9,848.3 L1484.1,856.7 L1478.1,865.2 L1473.3,872.4 L1467.2,879.6 L1463.6,885.7 L1457.6,891.7 L1452.8,897.7 L1450.4,903.7 L1448.0,911.0 L1443.1,917.0 L1438.3,924.2 L1433.5,931.4 L1428.7,938.7 L1426.3,943.5 L1420.2,938.7 L1414.2,935.1 L1408.2,932.7 L1402.2,935.1 L1399.8,941.1 L1394.9,943.5 L1390.1,938.7 L1386.5,932.7 L1381.7,932.7 L1378.1,938.7 L1373.3,939.9 L1372.0,931.4 L1368.4,925.4 L1363.6,927.8 L1360.0,924.2 L1356.4,920.6 L1351.6,917.0 L1349.2,911.0 L1349.2,907.3 L1354.0,902.5 L1357.6,896.5 L1362.4,894.1 L1368.4,892.9 L1372.0,889.3 L1374.5,883.3 L1379.3,878.4 L1380.5,872.4 L1381.7,866.4 L1385.3,864.0 L1392.5,862.8 L1399.8,859.2 L1401.0,853.1 L1407.0,847.1 L1411.8,842.3 L1409.4,837.5 L1405.8,831.4 L1409.4,827.8 L1410.6,823.0 L1409.4,817.0 L1410.6,811.0 L1409.4,806.1 L1404.6,804.9 L1401.0,801.3 L1402.2,797.7 L1408.2,796.5 L1414.2,794.1 L1416.6,789.3 L1419.0,783.3Z" fill="#810f7c"/>
<path d="M1504.3,815.0 L1498.9,810.4 L1494.2,807.3 L1486.5,802.7 L1478.7,799.6 L1476.4,793.4 L1473.3,788.7 L1469.4,785.6 L1473.3,779.4 L1474.9,771.7 L1473.3,763.9 L1475.6,756.2 L1474.9,748.4 L1471.0,742.2 L1466.3,736.0 L1465.6,728.3 L1469.4,724.4 L1474.9,722.1 L1478.7,715.9 L1481.8,708.2 L1486.5,702.7 L1491.1,700.4 L1492.7,694.2 L1497.3,695.8 L1502.0,695.0 L1506.6,694.2 L1509.7,698.1 L1517.5,695.8 L1526.7,692.7 L1534.5,690.3 L1539.1,686.5 L1548.4,686.5 L1554.6,681.8 L1559.3,675.6 L1563.9,669.4 L1560.8,665.6 L1568.6,667.1 L1574.8,663.2 L1577.9,657.0 L1582.5,653.2 L1590.3,652.4 L1599.6,653.2 L1602.7,658.6 L1607.3,663.2 L1610.4,669.4 L1611.9,677.2 L1618.1,680.3 L1621.2,686.5 L1625.9,691.1 L1628.2,697.3 L1624.3,700.4 L1630.5,703.5 L1632.9,705.8 L1622.8,708.9 L1613.5,712.8 L1604.2,717.5 L1594.9,721.3 L1587.2,726.7 L1579.4,729.8 L1576.3,732.2 L1570.1,730.6 L1562.4,733.7 L1554.6,739.1 L1548.4,746.9 L1542.2,754.6 L1536.0,762.4 L1531.4,768.6 L1526.0,774.0 L1532.9,776.3 L1536.0,779.4 L1540.7,781.7 L1545.3,784.1 L1546.9,788.7 L1540.7,793.4 L1532.9,796.5 L1523.6,799.6 L1515.9,802.7 L1509.7,807.3 L1506.6,811.9Z" fill="#8856a7"/>
<path d="M1645.2,535.2 L1651.6,534.1 L1660.2,535.2 L1666.7,535.7 L1670.5,537.3 L1668.8,540.6 L1667.8,545.9 L1670.5,548.6 L1669.9,552.4 L1664.5,552.9 L1660.2,553.5 L1664.5,556.7 L1669.9,559.9 L1675.3,561.0 L1679.6,563.1 L1686.1,561.0 L1691.4,559.9 L1696.8,559.9 L1703.3,562.1 L1708.6,564.2 L1711.9,569.6 L1717.3,567.5 L1721.6,568.5 L1721.6,577.1 L1716.2,581.4 L1716.2,585.7 L1720.5,587.9 L1719.4,592.2 L1714.0,596.0 L1707.6,597.6 L1704.3,598.6 L1705.4,603.0 L1707.6,608.3 L1713.0,609.4 L1719.4,610.5 L1724.8,613.7 L1728.0,618.0 L1731.2,620.7 L1735.5,619.1 L1743.1,616.9 L1749.5,616.4 L1754.9,618.0 L1756.0,622.3 L1758.1,628.8 L1748.5,635.2 L1742.1,640.0 L1729.7,649.3 L1718.8,657.0 L1709.5,661.7 L1700.2,669.4 L1694.0,677.2 L1687.8,686.5 L1678.6,691.9 L1667.7,695.0 L1656.9,698.1 L1644.5,702.0 L1632.9,705.8 L1630.5,703.5 L1624.3,700.4 L1628.2,697.3 L1625.9,691.1 L1621.2,686.5 L1618.1,680.3 L1611.9,677.2 L1610.4,669.4 L1607.3,663.2 L1602.7,658.6 L1599.6,653.2 L1596.5,647.0 L1598.0,643.1 L1604.2,640.0 L1600.8,628.2 L1600.0,623.4 L1602.2,618.0 L1608.6,619.1 L1614.0,622.3 L1620.4,614.8 L1621.5,608.3 L1618.3,603.0 L1624.7,597.6 L1626.9,590.0 L1631.2,586.8 L1628.0,581.4 L1630.7,575.0 L1630.1,567.5 L1632.3,561.0 L1632.3,554.5 L1627.4,548.1 L1626.9,541.6 L1635.5,538.4Z" fill="#8856a7"/>
<path d="M1630.1,508.8 L1640.9,509.9 L1653.8,513.1 L1657.0,520.1 L1660.2,525.5 L1664.5,527.1 L1674.2,522.3 L1677.5,518.0 L1683.9,515.3 L1691.4,513.7 L1697.9,514.7 L1703.3,516.9 L1711.9,519.6 L1717.3,525.0 L1721.6,526.0 L1729.1,524.4 L1738.8,524.2 L1737.2,518.0 L1744.1,513.1 L1752.8,511.5 L1759.2,506.7 L1767.8,502.9 L1778.6,503.4 L1785.0,507.7 L1793.6,507.2 L1794.7,515.8 L1801.2,520.1 L1811.9,521.7 L1810.8,530.9 L1807.6,535.2 L1796.9,534.1 L1791.5,540.6 L1790.9,547.0 L1792.6,552.4 L1799.0,556.7 L1802.2,563.1 L1804.4,573.9 L1805.5,581.4 L1803.3,590.0 L1796.9,597.6 L1790.4,601.9 L1786.1,607.3 L1778.6,612.6 L1772.1,618.0 L1765.7,622.3 L1758.1,628.8 L1756.0,622.3 L1754.9,618.0 L1749.5,616.4 L1743.1,616.9 L1735.5,619.1 L1731.2,620.7 L1728.0,618.0 L1724.8,613.7 L1719.4,610.5 L1713.0,609.4 L1707.6,608.3 L1705.4,603.0 L1704.3,598.6 L1707.6,597.6 L1714.0,596.0 L1719.4,592.2 L1720.5,587.9 L1716.2,585.7 L1716.2,581.4 L1721.6,577.1 L1721.6,568.5 L1717.3,567.5 L1711.9,569.6 L1708.6,564.2 L1703.3,562.1 L1696.8,559.9 L1691.4,559.9 L1686.1,561.0 L1679.6,563.1 L1675.3,561.0 L1669.9,559.9 L1664.5,556.7 L1660.2,553.5 L1664.5,552.9 L1669.9,552.4 L1670.5,548.6 L1667.8,545.9 L1668.8,540.6 L1670.5,537.3 L1666.7,535.7 L1660.2,535.2 L1651.6,534.1 L1645.2,535.2 L1645.2,527.7 L1642.0,525.5 L1639.8,519.0 L1635.5,515.8 L1631.2,514.7Z" fill="#8c96c6"/>
</g>
<path d="M787.7,1354.1 L797.3,1351.9 L797.8,1356.9 L793.3,1360.3 L789.4,1356.9Z" fill="none" stroke="#000" stroke-width="3.6" stroke-linejoin="round"/>
<path d="M773.0,1429.2 L777.0,1428.6 L784.9,1432.6 L783.7,1436.0 L778.1,1434.3 L773.6,1432.6Z" fill="none" stroke="#000" stroke-width="3.6" stroke-linejoin="round"/>
<path d="M694.5,1434.9 L697.9,1432.0 L700.7,1433.7 L699.6,1437.7 L696.2,1439.4 L694.0,1437.1Z" fill="none" stroke="#000" stroke-width="3.6" stroke-linejoin="round"/>
<path d="M1514.4,808.8 L1517.5,805.7 L1525.2,804.2 L1531.4,799.6 L1532.9,801.1 L1528.3,807.3 L1522.1,811.9 L1515.9,811.9Z" fill="#000" stroke="#000" stroke-width="2"/>
<path d="M1527.5,774.8 L1532.9,774.0 L1536.8,777.9 L1534.5,780.2 L1529.8,777.9Z" fill="#000" stroke="#000" stroke-width="1.5"/>
<text class="t" x="547.8" y="123.8" font-size="108.9" fill="#000">Exportaciones/PIB (%)</text>
<rect x="1434.8" y="1752.8" width="703.3" height="47" fill="#000"/>
<rect x="1514.6" y="1764.5" width="57.5" height="23.3" fill="#fff"/>
<rect x="1722.5" y="1764.5" width="126.8" height="23.3" fill="#fff"/>
<rect x="1999.7" y="1764.5" width="126.8" height="23.3" fill="#fff"/>
<g class="s" font-size="49.6" fill="#000" stroke="#000" stroke-width="0.7" text-anchor="middle">
<text transform="translate(1441.4,1722.8) scale(0.955,1)">100</text>
<text transform="translate(1578.7,1722.8) scale(0.955,1)">0</text>
<text transform="translate(1717.9,1722.8) scale(0.955,1)">100</text>
<text transform="translate(1855.6,1722.8) scale(0.955,1)">200</text>
<text transform="translate(1993.3,1722.8) scale(0.955,1)">300</text>
<text transform="translate(2090.3,1722.8) scale(0.978,1)" text-anchor="start">400 km</text>
</g>
<text class="s" transform="translate(2594.2,1672.7) scale(1.026,1)" font-size="64.9" fill="#000" stroke="#000" stroke-width="0.8">Leyenda (en %)</text>
<rect x="2595.3" y="1728.7" width="93.6" height="58.7" rx="2" fill="#edf8fb" stroke="#000" stroke-width="2.6"/>
<text class="s" transform="translate(2728.6,1776.9) scale(0.984,1)" font-size="49.6" fill="#000" stroke="#000" stroke-width="0.7">1.00 - 10.00</text>
<rect x="2595.3" y="1811.4" width="93.6" height="58.7" rx="2" fill="#b3cde3" stroke="#000" stroke-width="2.6"/>
<text class="s" transform="translate(2728.6,1859.6) scale(0.984,1)" font-size="49.6" fill="#000" stroke="#000" stroke-width="0.7">10.00 - 20.00</text>
<rect x="2595.3" y="1894.0" width="93.6" height="58.7" rx="2" fill="#8c96c6" stroke="#000" stroke-width="2.6"/>
<text class="s" transform="translate(2728.6,1942.2) scale(0.984,1)" font-size="49.6" fill="#000" stroke="#000" stroke-width="0.7">20.00 - 30.00</text>
<rect x="2595.3" y="1976.7" width="93.6" height="58.7" rx="2" fill="#8856a7" stroke="#000" stroke-width="2.6"/>
<text class="s" transform="translate(2728.6,2024.9) scale(0.984,1)" font-size="49.6" fill="#000" stroke="#000" stroke-width="0.7">30.00 - 40.00</text>
<rect x="2595.3" y="2059.3" width="93.6" height="58.7" rx="2" fill="#810f7c" stroke="#000" stroke-width="2.6"/>
<text class="s" transform="translate(2728.6,2107.5) scale(0.984,1)" font-size="49.6" fill="#000" stroke="#000" stroke-width="0.7">40.00 - 100.00</text>
</svg>
</body></html>
